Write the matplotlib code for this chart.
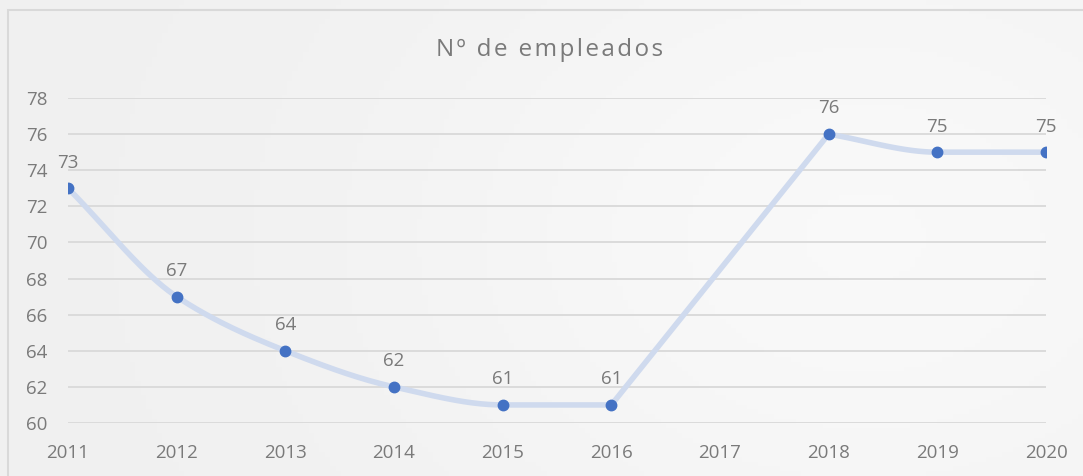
import matplotlib
matplotlib.use('Agg')
import matplotlib.pyplot as plt
import numpy as np
from matplotlib.patches import Rectangle

plt.rcParams['font.family'] = ['Open Sans', 'DejaVu Sans']

# ── Datos ──────────────────────────────────────────────────────────────
anios = [2011, 2012, 2013, 2014, 2015, 2016, 2017, 2018, 2019, 2020]
empleados = [73, 67, 64, 62, 61, 61, np.nan, 76, 75, 75]
y_ticks = [60, 62, 64, 66, 68, 70, 72, 74, 76, 78]
titulo = 'Nº de empleados'

GRIS = '#7a7a7a'
AZUL = '#4472C4'
LINEA = '#cfdaee'


def suavizar(xs, ys, n=40):
    # hermite monótono (sin sobrepasar), parecido a la línea suavizada de Excel
    xs = np.asarray(xs, float)
    ys = np.asarray(ys, float)
    if len(xs) < 3:
        return xs, ys
    h = np.diff(xs)
    d = np.diff(ys) / h
    m = np.zeros(len(xs))
    m[0], m[-1] = d[0], d[-1]
    for i in range(1, len(xs) - 1):
        if d[i - 1] * d[i] > 0:
            m[i] = 2 * d[i - 1] * d[i] / (d[i - 1] + d[i])
    out_x, out_y = [], []
    t = np.linspace(0, 1, n)
    for i in range(len(xs) - 1):
        h00 = 2 * t ** 3 - 3 * t ** 2 + 1
        h10 = t ** 3 - 2 * t ** 2 + t
        h01 = -2 * t ** 3 + 3 * t ** 2
        h11 = t ** 3 - t ** 2
        out_x.extend(xs[i] + t * h[i])
        out_y.extend(h00 * ys[i] + h10 * h[i] * m[i] + h01 * ys[i + 1]
                     + h11 * h[i] * m[i + 1])
    return np.array(out_x), np.array(out_y)


fig = plt.figure(figsize=(10.83, 4.76), dpi=100)

# fondo degradado suave
bg = fig.add_axes([0, 0, 1, 1], zorder=-10)
gx = np.linspace(0, 1, 200)
gy = np.linspace(0, 1, 100)
GX, GY = np.meshgrid(gx, gy)
grad = 0.942 + 0.035 * np.exp(-((GX - 0.8) ** 2 / 0.2 + (GY - 0.5) ** 2 / 0.6))
bg.imshow(np.dstack([grad, grad, grad]), extent=[0, 1, 0, 1], aspect='auto',
          origin='lower')
bg.add_patch(Rectangle((8 / 1083, -0.1), 1.2, 1.1 - 10 / 476, fill=False,
                       edgecolor='#d9d9d9', linewidth=1.5))
bg.set_xlim(0, 1)
bg.set_ylim(0, 1)
bg.axis('off')

ax = fig.add_axes([68 / 1083, 53 / 476, (1046 - 68) / 1083, (423 - 98) / 476])
ax.patch.set_alpha(0)

x = np.array(anios, float)
y = np.array(empleados, float)
ok = ~np.isnan(y)

# tramos continuos suavizados + conexión recta sobre el hueco
tramos = []
actual = []
for xi, yi in zip(x, y):
    if np.isnan(yi):
        if actual:
            tramos.append(actual)
        actual = []
    else:
        actual.append((xi, yi))
if actual:
    tramos.append(actual)

for tr in tramos:
    tx, ty = zip(*tr)
    sx, sy = suavizar(tx, ty)
    ax.plot(sx, sy, color=LINEA, linewidth=4, solid_capstyle='round', zorder=2)
for a, b in zip(tramos[:-1], tramos[1:]):
    ax.plot([a[-1][0], b[0][0]], [a[-1][1], b[0][1]], color=LINEA,
            linewidth=4, solid_capstyle='round', zorder=2)

ax.plot(x[ok], y[ok], 'o', color=AZUL, markersize=7.5, zorder=3)

for xi, yi in zip(x[ok], y[ok]):
    ax.annotate(f'{int(yi)}', (xi, yi), xytext=(0, 12), textcoords='offset points',
                ha='center', va='bottom', fontsize=13.5, color=GRIS)

ax.set_xlim(2011, 2020)
ax.set_ylim(60, 78)
ax.set_yticks(y_ticks)
ax.set_xticks(anios)
ax.set_xticklabels([str(a) for a in anios])
ax.grid(axis='y', color='#d9d9d9', linewidth=1.3)
ax.set_axisbelow(True)
for s in ax.spines.values():
    s.set_visible(False)
ax.tick_params(length=0, labelsize=13.5, labelcolor=GRIS)
ax.tick_params(axis='x', pad=15)
ax.tick_params(axis='y', pad=15)

fig.text(550 / 1083, 1 - 50 / 476, '\u200a'.join(titulo),
         ha='center', va='center', fontsize=17.5, color=GRIS)

fig.savefig('out.png', dpi=100)
